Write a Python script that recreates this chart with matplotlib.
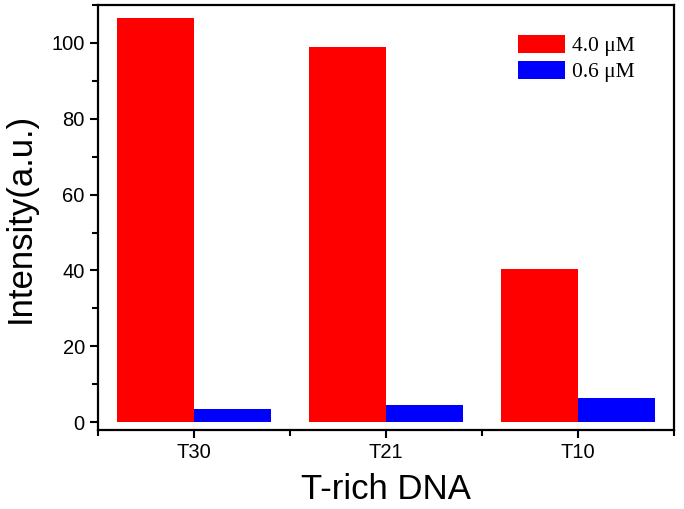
import matplotlib
matplotlib.use("Agg")
import matplotlib.pyplot as plt
import numpy as np
from matplotlib.ticker import MultipleLocator, FixedLocator

categories = ["T30", "T21", "T10"]
high = [106.6, 98.9, 40.4]
low = [3.4, 4.5, 6.3]
labels = ["4.0 \u03bcM", "0.6 \u03bcM"]

plt.rcParams['font.family'] = ['Liberation Sans', 'DejaVu Sans']

fig = plt.figure(figsize=(6.84, 5.09), dpi=100)
ax = fig.add_axes([0.1433, 0.1552, 0.8421, 0.8348])

x = np.arange(len(categories))
w = 0.4
ax.bar(x - w / 2, high, w, color="#ff0000", label=labels[0], linewidth=0)
ax.bar(x + w / 2, low, w, color="#0000ff", label=labels[1], linewidth=0)

ax.set_xlim(-0.5, 2.5)
ax.set_ylim(-2.1, 110)
ax.set_xticks(x)
ax.set_xticklabels(categories)
ax.xaxis.set_minor_locator(FixedLocator([-0.5, 0.5, 1.5, 2.5]))
ax.yaxis.set_major_locator(MultipleLocator(20))
ax.yaxis.set_minor_locator(MultipleLocator(10))
ax.tick_params(which="both", direction="out", width=1.5, labelsize=14.5, top=False, right=False)
ax.tick_params(which="major", length=6)
ax.tick_params(which="minor", length=4)
for s in ax.spines.values():
    s.set_linewidth(1.6)

ax.set_xlabel("T-rich DNA", fontsize=25, labelpad=8)
ax.set_ylabel("Intensity(a.u.)", fontsize=25)
ax.yaxis.set_label_coords(-0.106, 0.5)

leg = ax.legend(loc="upper right", bbox_to_anchor=(0.965, 0.975), frameon=False,
                prop={'family': ['Liberation Serif', 'DejaVu Serif'], 'size': 15.5},
                handlelength=2.2, handleheight=0.9, handletextpad=0.3, labelspacing=0.2)

fig.savefig("out.png", dpi=100)
